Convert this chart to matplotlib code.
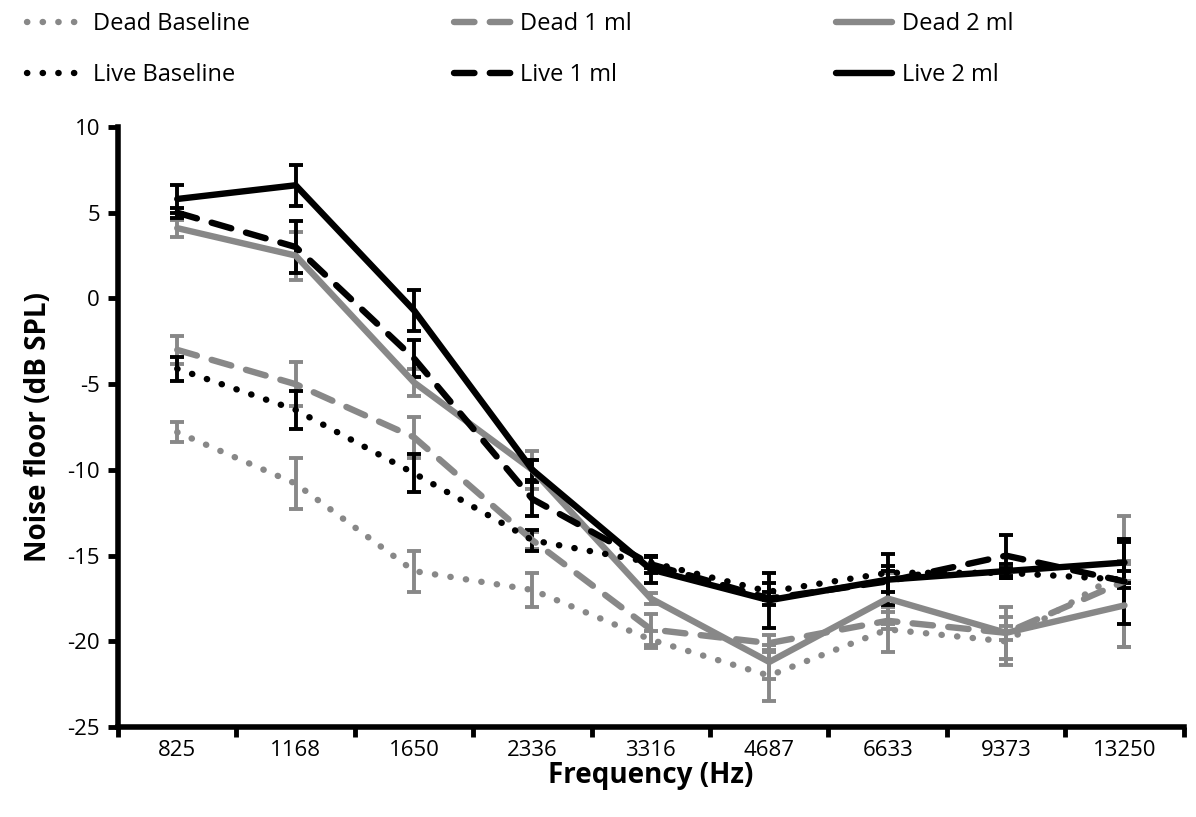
import numpy as np
import matplotlib
matplotlib.use('Agg')
import matplotlib.pyplot as plt

plt.rcParams['font.family'] = ['Liberation Sans Narrow', 'Open Sans', 'DejaVu Sans']
plt.rcParams['axes.unicode_minus'] = False

freqs = ['825', '1168', '1650', '2336', '3316', '4687', '6633', '9373', '13250']

dead_base = [-7.8, -10.8, -15.9, -17.0, -19.9, -22.0, -19.3, -20.0, -15.9]
dead_base_err = [0.6, 1.5, 1.2, 1.0, 0.5, 1.5, 1.3, 1.4, 0.6]
dead_1ml = [-3.0, -5.0, -8.1, -14.1, -19.3, -20.1, -18.8, -19.5, -16.5]
dead_1ml_err = [0.8, 1.3, 1.2, 0.5, 0.9, 0.5, 0.5, 0.4, 3.8]
dead_2ml = [4.1, 2.5, -4.9, -10.0, -17.5, -21.2, -17.5, -19.5, -17.9]
dead_2ml_err = [0.5, 1.4, 0.8, 1.1, 0.3, 1.0, 1.5, 1.5, 2.4]
live_base = [-4.1, -6.5, -10.2, -14.1, -15.4, -17.1, -16.0, -16.0, -16.4]
live_base_err = [0.7, 1.1, 1.1, 0.6, 0.3, 0.5, 0.4, 0.3, 0.5]
live_1ml = [5.0, 3.0, -3.5, -11.7, -15.5, -17.5, -16.5, -15.0, -16.5]
live_1ml_err = [0.3, 1.5, 1.1, 1.0, 0.5, 0.4, 0.6, 1.2, 2.5]
live_2ml = [5.8, 6.6, -0.7, -10.0, -15.8, -17.6, -16.4, -15.9, -15.4]
live_2ml_err = [0.8, 1.2, 1.2, 0.6, 0.8, 1.6, 1.5, 0.4, 1.2]

grey = '#888888'
dotted = (0, (0.05, 2.4))
dashed = (0, (3.2, 2.4))

series = [
    ('Dead Baseline', dead_base, dead_base_err, grey, dotted),
    ('Dead 1 ml', dead_1ml, dead_1ml_err, grey, dashed),
    ('Dead 2 ml', dead_2ml, dead_2ml_err, grey, '-'),
    ('Live Baseline', live_base, live_base_err, 'black', dotted),
    ('Live 1 ml', live_1ml, live_1ml_err, 'black', dashed),
    ('Live 2 ml', live_2ml, live_2ml_err, 'black', '-'),
]

fig = plt.figure(figsize=(11.96, 8.17), dpi=100)
ax = fig.add_axes([0.0987, 0.110, 0.891, 0.7346])
x = np.arange(len(freqs))

handles = {}
for name, vals, err, col, ls in series:
    ax.errorbar(x, vals, yerr=err, fmt='none', ecolor=col, elinewidth=2.8,
                capsize=5, capthick=2.8, zorder=2)
    ln, = ax.plot(x, vals, color=col, linestyle=ls, linewidth=4.6,
                  dash_capstyle='round', solid_capstyle='round', zorder=3, label=name)
    handles[name] = ln

ax.set_xlim(-0.5, len(freqs) - 0.5)
ax.set_ylim(-25, 10)
ax.set_yticks(np.arange(-25, 11, 5))
ax.set_xticks(x)
ax.set_xticklabels(freqs)
ax.set_xticks(np.arange(-0.5, len(freqs), 1), minor=True)
ax.tick_params(axis='x', which='major', length=0, labelsize=16, pad=9)
ax.tick_params(axis='x', which='minor', length=7, width=3.5, direction='out')
ax.tick_params(axis='y', length=7, width=3.5, direction='out', labelsize=16, pad=6)

for s in ['top', 'right']:
    ax.spines[s].set_visible(False)
for s in ['left', 'bottom']:
    ax.spines[s].set_linewidth(4)

ax.set_xlabel('Frequency (Hz)', fontsize=20, fontweight='bold', labelpad=0)
ax.set_ylabel('Noise floor (dB SPL)', fontsize=20, fontweight='bold', labelpad=10)

# legend is filled column by column, so interleave dead/live entries
order = ['Dead Baseline', 'Live Baseline', 'Dead 1 ml', 'Live 1 ml', 'Dead 2 ml', 'Live 2 ml']
fig.legend([handles[n] for n in order], order, ncol=3, frameon=False,
           loc='lower left', bbox_to_anchor=(0.015, 0.882, 0.84, 0.1), mode='expand',
           fontsize=17, handlelength=2.4, handletextpad=0.4, labelspacing=1.15,
           borderaxespad=0)

fig.savefig('out.png', dpi=100)
